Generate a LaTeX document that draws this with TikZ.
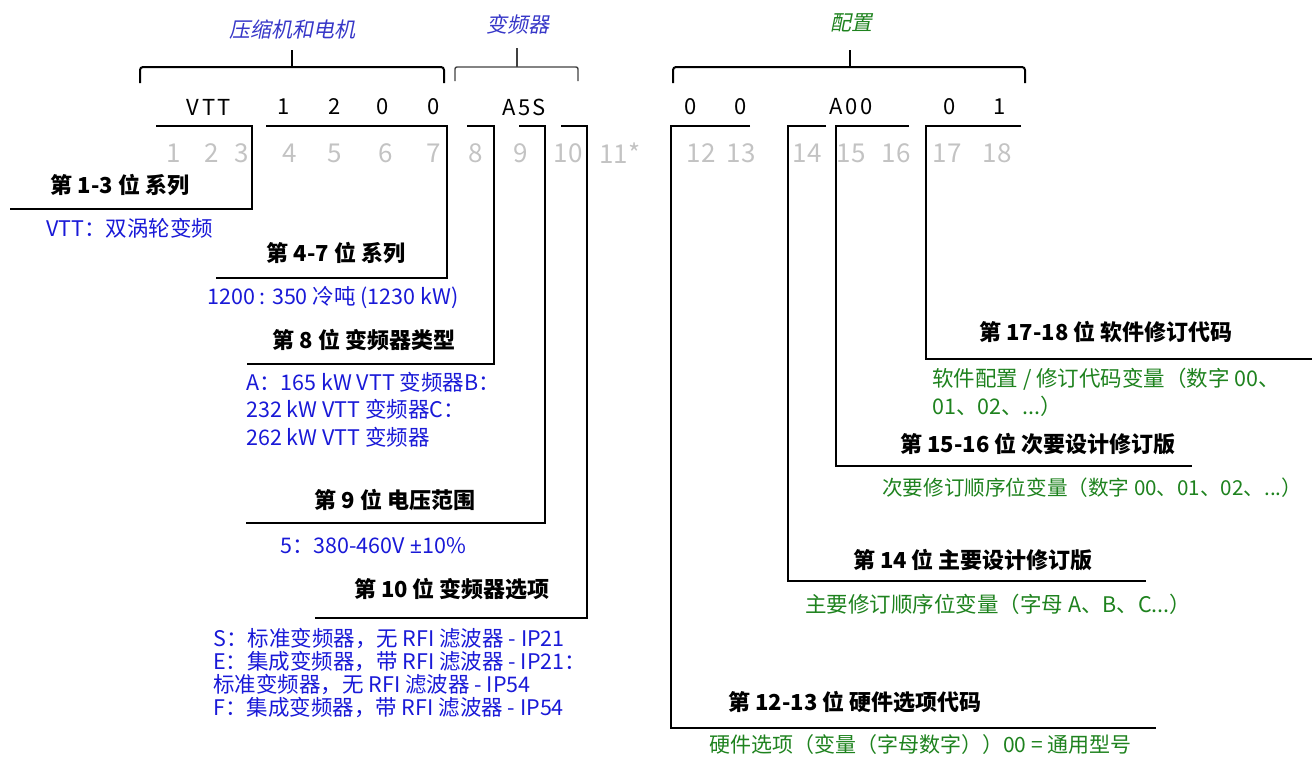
\documentclass[tikz,border=0pt]{standalone}
\usepackage{fontspec}
\setmainfont{Noto Sans CJK SC}
\newfontfamily\slantfont[FakeSlant=0.2]{Noto Sans CJK SC}
\newfontfamily\codefont[LetterSpace=12]{Noto Sans CJK SC}
\newfontfamily\latinfont{Noto Sans}
\definecolor{descblue}{RGB}{25,25,215}
\definecolor{titleblue}{RGB}{55,55,200}
\definecolor{descgreen}{RGB}{30,130,30}
\definecolor{numgray}{RGB}{195,195,195}
\begin{document}
\begin{tikzpicture}[x=1pt,y=-1pt,
  lab/.style={font=\fontsize{22}{24}\selectfont\bfseries, inner sep=0},
  desc/.style={font=\fontsize{21.5}{23}\selectfont, text=descblue, inner sep=0, anchor=west, align=left},
  gdesc/.style={desc, text=descgreen},
  num/.style={font=\fontsize{26}{28}\selectfont, text=numgray, inner sep=0},
  code/.style={font=\fontsize{22}{24}\selectfont\codefont, inner sep=0},
  title/.style={font=\fontsize{21}{24}\selectfont\slantfont, inner sep=0},
  bar/.style={line width=2.6pt},
  brace/.style={line width=2pt, rounded corners=3pt}]
\useasboundingbox (0,0) rectangle (1312,758);

% titles and braces
\node[title, text=titleblue] (t1) at (292,29) {压缩机和电机};
\node[title, text=titleblue] (t2) at (518,24) {变频器};
\node[title, text=descgreen] (t3) at (851,23) {配置};
\draw[brace] (140,83) -- (140,67) -- (444,67) -- (444,83);
\draw[line width=2pt] (292,67) -- (292,50);
\draw[line width=1.4pt, black!75, rounded corners=2pt] (455,81) -- (455,67) -- (578,67) -- (578,81);
\draw[line width=1.4pt, black!75] (517,67) -- (517,48);
\draw[brace] (673,83) -- (673,67) -- (1025,67) -- (1025,83);
\draw[line width=2pt] (850,67) -- (850,50);

% code characters
\node[code] (c1) at (209,107) {VTT};
\node[code] (c4) at (284,107) {1};
\node[code] (c5) at (335,107) {2};
\node[code] (c6) at (383,107) {0};
\node[code] (c7) at (434,107) {0};
\node[code] (c8) at (524,107) {A5S};
\node[code] (c12) at (691,107) {0};
\node[code] (c13) at (741,107) {0};
\node[code] (c14) at (851,107) {A00};
\node[code] (c17) at (950,107) {0};
\node[code] (c18) at (1000,107) {1};

% position numbers
\foreach \n/\x in {1/174,2/212,3/242,4/290,5/335,6/386,7/434,8/476,9/521,10/568,12/701,13/741,14/807,15/851,16/896,17/947,18/997}
  \node[num] (n\n) at (\x,153) {\n};
\node[num] (n11) at (620,153) {11*};

% brackets
\draw[bar] (156,126) -- (252,126) -- (252,209) -- (10,209);
\draw[bar] (266,126) -- (447,126) -- (447,278) -- (216,278);
\draw[bar] (467,126) -- (494,126) -- (494,364) -- (247,364);
\draw[bar] (519,126) -- (545,126) -- (545,523) -- (246,523);
\draw[bar] (561,126) -- (587,126) -- (587,618) -- (315,618);
\draw[bar] (750,126) -- (671,126) -- (671,728) -- (1156,728);
\draw[bar] (826,126) -- (788,126) -- (788,581) -- (1146,581);
\draw[bar] (909,126) -- (836,126) -- (836,466) -- (1192,466);
\draw[bar] (1021,126) -- (926,126) -- (926,359) -- (1312,359);

% labels
\node[lab] (l1) at (120,185) {第 1-3 位 系列};
\node[desc] (d1) at (46,228) {VTT：双涡轮变频};
\node[lab] (l2) at (336,253) {第 4-7 位 系列};
\node[desc] (d2) at (207,298) {1200 : 350 冷吨 (1230 kW)};
\node[lab] (l3) at (364,340) {第 8 位 变频器类型};
\node[desc, font=\fontsize{21.5}{27.5}\selectfont, anchor=north west] (d3) at (246,372) {A：165 kW VTT 变频器B：\\232 kW VTT 变频器C：\\262 kW VTT 变频器};
\node[lab] (l4) at (395,500) {第 9 位 电压范围};
\node[desc] (d4) at (280,546) {5：380-460V {\latinfont ±}10\%};
\node[lab] (l5) at (452,589) {第 10 位 变频器选项};
\node[desc, anchor=north west] (d5) at (213,628) {S：标准变频器，无 RFI 滤波器 - IP21\\E：集成变频器，带 RFI 滤波器 - IP21：\\标准变频器，无 RFI 滤波器 - IP54\\F：集成变频器，带 RFI 滤波器 - IP54};

\node[lab] (l9) at (1106,332) {第 17-18 位 软件修订代码};
\node[gdesc, font=\fontsize{21.5}{28}\selectfont, anchor=north west] (d9) at (932,368) {软件配置 / 修订代码变量（数字 00、\\01、02、...）};
\node[lab] (l8) at (1038,444) {第 15-16 位 次要设计修订版};
\node[gdesc, font=\fontsize{20.6}{23}\selectfont] (d8) at (882,488) {次要修订顺序位变量（数字 00、01、02、...）};
\node[lab] (l7) at (973,560) {第 14 位 主要设计修订版};
\node[gdesc] (d7) at (805,604) {主要修订顺序位变量（字母 A、B、C...）};
\node[lab] (l6) at (855,702) {第 12-13 位 硬件选项代码};
\node[gdesc, font=\fontsize{21}{23}\selectfont] (d6) at (709,745) {硬件选项（变量（字母数字））00 = 通用型号};
\end{tikzpicture}
\end{document}
